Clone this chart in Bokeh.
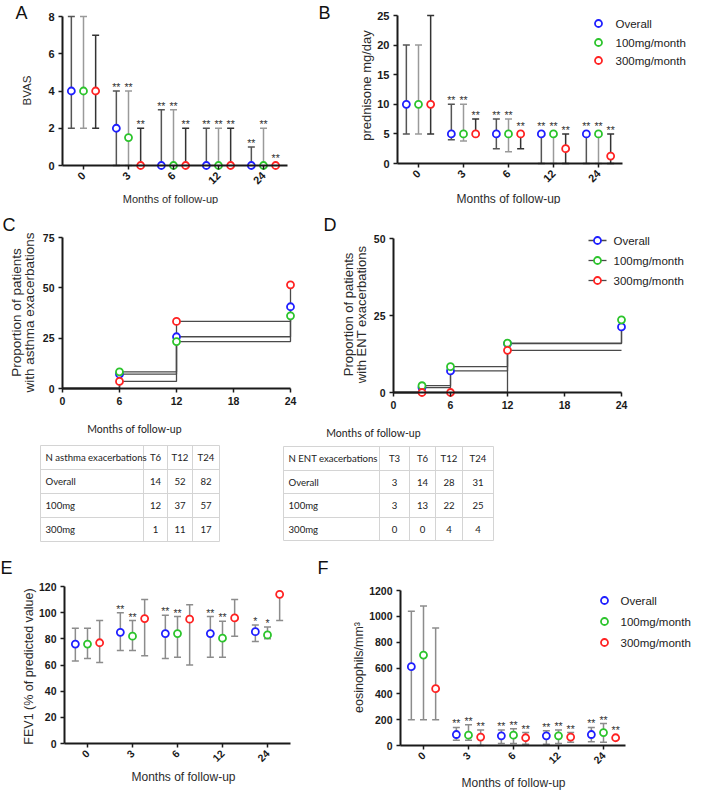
import math
from bokeh.plotting import figure
from bokeh.models import Range1d, FixedTicker
from bokeh.layouts import column, row
from bokeh.embed import file_html
from bokeh.resources import INLINE
from bokeh.core.properties import value

# ---------------- data ----------------
months = ["0", "3", "6", "12", "24"]
series = ["Overall", "100mg/month", "300mg/month"]

# A: BVAS (median, range)
bvas_overall_med = [4, 2, 0, 0, 0]
bvas_overall_lo = [2, 0, 0, 0, 0]
bvas_overall_hi = [8, 4, 3, 2, 1]
bvas_100_med = [4, 1.5, 0, 0, 0]
bvas_100_lo = [2, 0, 0, 0, 0]
bvas_100_hi = [8, 4, 3, 2, 2]
bvas_300_med = [4, 0, 0, 0, 0]
bvas_300_lo = [2, 0, 0, 0, 0]
bvas_300_hi = [7, 2, 2, 2, 0]
bvas_overall_sig = ["", "**", "**", "**", "**"]
bvas_100_sig = ["", "**", "**", "**", "**"]
bvas_300_sig = ["", "**", "**", "**", "**"]

# B: prednisone mg/day
pred_overall_med = [10, 5, 5, 5, 5]
pred_overall_lo = [5, 4, 2.5, 0, 0]
pred_overall_hi = [20, 10, 7.5, 5, 5]
pred_100_med = [10, 5, 5, 5, 5]
pred_100_lo = [5, 3.8, 2, 0, 0]
pred_100_hi = [20, 10, 7.5, 5, 5]
pred_300_med = [10, 5, 5, 2.5, 1.25]
pred_300_lo = [5, 5, 2.5, 0, 0]
pred_300_hi = [25, 7.5, 5, 5, 5]
pred_overall_sig = ["", "**", "**", "**", "**"]
pred_100_sig = ["", "**", "**", "**", "**"]
pred_300_sig = ["", "**", "**", "**", "**"]

# C: proportion with asthma exacerbations (%)
asthma_months = [6, 12, 24]
asthma_overall = [7.1, 25.7, 40.6]
asthma_100 = [8.3, 23.3, 36.1]
asthma_300 = [3.5, 33.3, 51.5]

# D: proportion with ENT exacerbations (%)
ent_months = [3, 6, 12, 24]
ent_overall = [1.6, 7.0, 15.9, 21.3]
ent_100 = [2.2, 8.4, 16.0, 23.6]
ent_300 = [0.0, 0.0, 13.7, 13.7]
ent_300_marked = [True, True, True, False]

# tables
asthma_table_cols = ["N asthma exacerbations", "T6", "T12", "T24"]
asthma_table_rows = ["Overall", "100mg", "300mg"]
asthma_n_overall = [14, 52, 82]
asthma_n_100 = [12, 37, 57]
asthma_n_300 = [1, 11, 17]
ent_table_cols = ["N ENT exacerbations", "T3", "T6", "T12", "T24"]
ent_table_rows = ["Overall", "100mg", "300mg"]
ent_n_overall = [3, 14, 28, 31]
ent_n_100 = [3, 13, 22, 25]
ent_n_300 = [0, 0, 4, 4]

# E: FEV1 (% predicted)
fev_overall_med = [76, 85, 84, 84, 85.5]
fev_overall_lo = [63, 71, 65, 66, 78]
fev_overall_hi = [88, 100, 98, 97, 90.5]
fev_100_med = [76, 82, 84, 80.5, 83]
fev_100_lo = [65, 71, 66, 66, 80]
fev_100_hi = [88, 94, 97, 93.5, 89]
fev_300_med = [77, 95.5, 95, 96, 114]
fev_300_lo = [62, 67, 60, 82, 94]
fev_300_hi = [94, 110, 106, 110, 114]
fev_overall_sig = ["", "**", "**", "**", "*"]
fev_100_sig = ["", "**", "**", "**", "*"]
fev_300_sig = ["", "", "", "", ""]

# F: eosinophils/mm3
eos_overall_med = [610, 85, 75, 75, 85]
eos_overall_lo = [200, 40, 15, 10, 30]
eos_overall_hi = [1040, 140, 120, 115, 140]
eos_100_med = [700, 80, 80, 75, 100]
eos_100_lo = [200, 40, 15, 15, 25]
eos_100_hi = [1080, 160, 130, 120, 170]
eos_300_med = [440, 65, 60, 65, 60]
eos_300_lo = [200, 0, 10, 25, 60]
eos_300_hi = [910, 120, 100, 100, 60]
eos_overall_sig = ["", "**", "**", "**", "**"]
eos_100_sig = ["", "**", "**", "**", "**"]
eos_300_sig = ["", "**", "**", "**", "**"]

# ---------------- style ----------------
FONT = "Liberation Sans"
TFONT = "Lato"
TSIZE = "9.6px"
BLUE, GREEN, RED = "#1f1fff", "#2cc42c", "#ff2222"
COLORS = [BLUE, GREEN, RED]
DODGE = [-0.27, 0.0, 0.27]
INK = "#1a1a1a"
LABEL = "#2b2b2b"


class PxMap:
    """Linear map between figure pixels (from top-left) and data units."""
    def __init__(self, w, h, xa, ya):
        px0, vx0, px1, vx1 = xa
        self.kx = (vx1 - vx0) / (px1 - px0)
        self.x0 = vx0 - px0 * self.kx
        py0, vy0, py1, vy1 = ya
        self.ky = (vy1 - vy0) / (py1 - py0)
        self.y0 = vy0 - py0 * self.ky
        self.w, self.h = w, h

    def x(self, px):
        return self.x0 + px * self.kx

    def y(self, py):
        return self.y0 + py * self.ky

    def xr(self):
        return Range1d(self.x(0), self.x(self.w))

    def yr(self):
        return Range1d(self.y(self.h), self.y(0))


def base_fig(m):
    p = figure(width=m.w, height=m.h, x_range=m.xr(), y_range=m.yr(),
               output_backend="svg", toolbar_location=None, title=None,
               min_border=0, outline_line_color=None,
               background_fill_color="white", border_fill_color="white")
    p.min_border_left = p.min_border_right = p.min_border_top = p.min_border_bottom = 0
    p.grid.visible = False
    return p


def style_axes(p, tick_size):
    for ax in (p.xaxis[0], p.yaxis[0]):
        ax.axis_line_width = 2
        ax.axis_line_color = INK
        ax.major_tick_line_width = 1.5
        ax.major_tick_line_color = INK
        ax.major_tick_in = 0
        ax.major_tick_out = 4
        ax.minor_tick_line_color = None
        ax.major_label_text_font = FONT
        ax.major_label_text_font_style = "bold"
        ax.major_label_text_font_size = tick_size
        ax.major_label_text_color = INK
        ax.major_label_standoff = 4


def put_text(p, m, txt, px, py, size, align="center", baseline="middle", angle=0.0,
             font=FONT, color=LABEL):
    p.text([m.x(px)], [m.y(py)], text=[txt], text_font=value(font), text_font_size=size,
           text_align=align, text_baseline=baseline, angle=angle, text_color=color)


def letter(p, m, txt, px, py):
    put_text(p, m, txt, px, py, "18px", align="left", baseline="top", color="#111111")


def dot_panel(m, axis_px, right_px, yticks, meds, los, his, sigs, bar_colors, tick_size):
    p = base_fig(m)
    style_axes(p, tick_size)
    xa, ya = p.xaxis[0], p.yaxis[0]
    xa.fixed_location = 0
    ya.fixed_location = m.x(axis_px)
    xa.bounds = (m.x(axis_px), m.x(right_px))
    ya.bounds = (0, yticks[-1])
    xa.ticker = FixedTicker(ticks=list(range(len(months))))
    xa.major_label_overrides = {i: lab for i, lab in enumerate(months)}
    xa.major_label_orientation = math.pi / 4
    ya.ticker = FixedTicker(ticks=yticks)
    for k in range(3):
        xs = [i + DODGE[k] for i in range(len(months))]
        p.segment(xs, los[k], xs, his[k], line_color=bar_colors[k], line_width=1.5)
        p.scatter(xs + xs, los[k] + his[k], marker="dash", size=7,
                  line_color=bar_colors[k], line_width=1.5)
    for k in range(3):
        xs = [i + DODGE[k] for i in range(len(months))]
        p.scatter(xs, meds[k], marker="circle", size=7, fill_color="white",
                  line_color=COLORS[k], line_width=1.8)
        top = [max(h, md) for h, md in zip(his[k], meds[k])]
        offs = [-4 if h > md else -8 for h, md in zip(his[k], meds[k])]
        p.text(xs, top, text=sigs[k], text_font=value(FONT), text_font_size="10.5px",
               text_align="center", text_baseline="alphabetic", y_offset=offs,
               text_color="#333333")
    return p


def dot_legend(p, m, mx, tx, ys):
    for k, name in enumerate(series):
        p.scatter([m.x(mx)], [m.y(ys[k])], marker="circle", size=7, fill_color="white",
                  line_color=COLORS[k], line_width=1.8)
        put_text(p, m, name, tx, ys[k], "11.5px", align="left", color="#222222")


VERT = math.pi / 2

# ---------------- A ----------------
mA = PxMap(310, 204, (83, 0, 128, 1), (165, 0, 16, 8))
pA = dot_panel(mA, 62, 287, [0, 2, 4, 6, 8],
               [bvas_overall_med, bvas_100_med, bvas_300_med],
               [bvas_overall_lo, bvas_100_lo, bvas_300_lo],
               [bvas_overall_hi, bvas_100_hi, bvas_300_hi],
               [bvas_overall_sig, bvas_100_sig, bvas_300_sig],
               ["#555555", "#9a9a9a", "#333333"], "11px")
letter(pA, mA, "A", 15, 2)
put_text(pA, mA, "BVAS", 26, 90, "11.5px", angle=VERT)
put_text(pA, mA, "Months of follow-up", 170, 198, "11px")

# ---------------- B ----------------
mB = PxMap(383, 204, (108, 0, 153, 1), (163, 0, 15, 25))
pB = dot_panel(mB, 87, 312, [0, 5, 10, 15, 20, 25],
               [pred_overall_med, pred_100_med, pred_300_med],
               [pred_overall_lo, pred_100_lo, pred_300_lo],
               [pred_overall_hi, pred_100_hi, pred_300_hi],
               [pred_overall_sig, pred_100_sig, pred_300_sig],
               ["#555555", "#9a9a9a", "#333333"], "11px")
letter(pB, mB, "B", 8, 2)
put_text(pB, mB, "prednisone mg/day", 56, 85, "13px", angle=VERT)
put_text(pB, mB, "Months of follow-up", 198, 198, "12px")
dot_legend(pB, mB, 288, 305, [23, 42, 60])


# ---------------- C / D (step curves) ----------------
def km_panel(m, yticks, t, vals, marked):
    p = base_fig(m)
    style_axes(p, "10.5px")
    xa, ya = p.xaxis[0], p.yaxis[0]
    xa.fixed_location = 0
    ya.fixed_location = 0
    xa.bounds = (0, 24)
    ya.bounds = (0, yticks[-1])
    xa.ticker = FixedTicker(ticks=[0, 6, 12, 18, 24])
    ya.ticker = FixedTicker(ticks=yticks)
    for k in range(3):
        p.step([0] + t, [0] + vals[k], mode="after", line_color="#4a4a4a", line_width=1.3)
    for k in range(3):
        xs = [tt for tt, mk in zip(t, marked[k]) if mk]
        ys = [v for v, mk in zip(vals[k], marked[k]) if mk]
        p.scatter(xs, ys, marker="circle", size=7, fill_color="white",
                  line_color=COLORS[k], line_width=1.8)
    return p


mC = PxMap(310, 208, (62, 0, 290, 24), (184, 0, 33, 75))
pC = km_panel(mC, [0, 25, 50, 75], asthma_months,
              [asthma_overall, asthma_100, asthma_300],
              [[True] * 3, [True] * 3, [True] * 3])
letter(pC, mC, "C", 2, 10)
put_text(pC, mC, "Proportion of patients", 16, 108, "13.5px", angle=VERT)
put_text(pC, mC, "with asthma exacerbations", 29, 108, "13.5px", angle=VERT)

mD = PxMap(383, 208, (83, 0, 311, 24), (188, 0, 34, 50))
pD = km_panel(mD, [0, 25, 50], ent_months,
              [ent_overall, ent_100, ent_300],
              [[True] * 4, [True] * 4, ent_300_marked])
letter(pD, mD, "D", 13, 10)
put_text(pD, mD, "Proportion of patients", 38, 110, "13px", angle=VERT)
put_text(pD, mD, "with ENT exacerbations", 51, 110, "13px", angle=VERT)
for k, name in enumerate(series):
    yy = mD.y([36, 56, 76][k])
    pD.segment([mD.x(278)], [yy], [mD.x(296)], [yy], line_color="#4a4a4a", line_width=1.3)
    pD.scatter([mD.x(287)], [yy], marker="circle", size=7, fill_color="white",
               line_color=COLORS[k], line_width=1.8)
    put_text(pD, mD, name, 303, [36, 56, 76][k], "11.5px", align="left", color="#222222")


# ---------------- tables ----------------
def table_fig(w, h, title, title_xy, cols, rows, counts, xb, yb):
    p = figure(width=w, height=h, x_range=Range1d(0, w), y_range=Range1d(h, 0),
               output_backend="svg", toolbar_location=None, title=None, min_border=0,
               outline_line_color=None, x_axis_location=None, y_axis_location=None)
    p.min_border_left = p.min_border_right = p.min_border_top = p.min_border_bottom = 0
    p.grid.visible = False
    p.text([title_xy[0]], [title_xy[1]], text=[title], text_font=value(TFONT),
           text_font_size="10.5px", text_align="center", text_baseline="middle",
           text_color="#222222")
    p.segment([xb[0]] * len(yb), yb, [xb[-1]] * len(yb), yb, line_color="#d4d4d4", line_width=1)
    p.segment(xb, [yb[0]] * len(xb), xb, [yb[-1]] * len(xb), line_color="#d4d4d4", line_width=1)
    table_rows = [cols] + [[r] + [str(c) for c in cnt] for r, cnt in zip(rows, counts)]
    for ri, cells in enumerate(table_rows):
        yc = (yb[ri] + yb[ri + 1]) / 2
        p.text([xb[0] + 5], [yc], text=[cells[0]], text_font=value(TFONT), text_font_size=TSIZE,
               text_align="left", text_baseline="middle", text_color="#222222")
        xs = [(xb[ci] + xb[ci + 1]) / 2 for ci in range(1, len(cells))]
        p.text(xs, [yc] * len(xs), text=cells[1:], text_font=value(TFONT), text_font_size=TSIZE,
               text_align="center", text_baseline="middle", text_color="#222222")
    return p


tC = table_fig(260, 138, "Months of follow-up", (134, 16), asthma_table_cols, asthma_table_rows,
               [asthma_n_overall, asthma_n_100, asthma_n_300],
               [40, 143, 167, 192, 219], [33, 57, 81, 105, 129])
tD = table_fig(433, 138, "Months of follow-up", (113, 20), ent_table_cols, ent_table_rows,
               [ent_n_overall, ent_n_100, ent_n_300],
               [23, 119, 149, 175, 202, 233], [34, 58, 81, 105, 128])

# ---------------- E ----------------
mE = PxMap(310, 241, (87, 0, 132, 1), (193, 0, 36, 120))
pE = dot_panel(mE, 64, 290, [0, 20, 40, 60, 80, 100, 120],
               [fev_overall_med, fev_100_med, fev_300_med],
               [fev_overall_lo, fev_100_lo, fev_300_lo],
               [fev_overall_hi, fev_100_hi, fev_300_hi],
               [fev_overall_sig, fev_100_sig, fev_300_sig],
               ["#8c8c8c", "#8c8c8c", "#8c8c8c"], "10.5px")
letter(pE, mE, "E", 0, 7)
put_text(pE, mE, "FEV1 (% of predicted value)", 28, 116, "12.5px", angle=VERT)
put_text(pE, mE, "Months of follow-up", 183, 226, "12px")

# ---------------- F ----------------
mF = PxMap(383, 241, (113, 0, 158, 1), (195, 0, 40, 1200))
pF = dot_panel(mF, 90, 315, [0, 200, 400, 600, 800, 1000, 1200],
               [eos_overall_med, eos_100_med, eos_300_med],
               [eos_overall_lo, eos_100_lo, eos_300_lo],
               [eos_overall_hi, eos_100_hi, eos_300_hi],
               [eos_overall_sig, eos_100_sig, eos_300_sig],
               ["#8c8c8c", "#8c8c8c", "#8c8c8c"], "10.5px")
letter(pF, mF, "F", 7, 7)
put_text(pF, mF, "eosinophils/mm\u00b3", 48, 117, "12.5px", angle=VERT)
put_text(pF, mF, "Months of follow-up", 203, 232, "12px")
dot_legend(pF, mF, 294, 310, [50, 71, 92])

layout = column(row(pA, pB), row(pC, pD), row(tC, tD), row(pE, pF))
open("out.html", "w").write(file_html(layout, INLINE))
